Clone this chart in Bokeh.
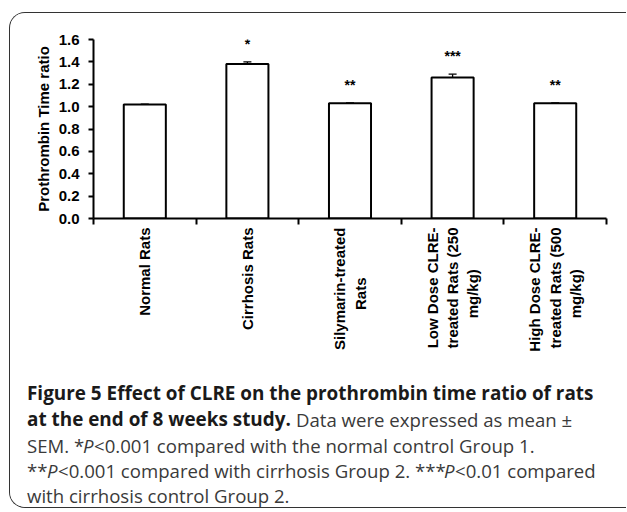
import math
from bokeh.plotting import figure
from bokeh.layouts import column
from bokeh.models import (Range1d, FixedTicker, PrintfTickFormatter, ColumnDataSource,
                          Whisker, TeeHead)
from bokeh.core.properties import value
from bokeh.embed import file_html
from bokeh.resources import INLINE

# ---- data ----
NB = "\u00a0"
categories = ["Normal Rats", "Cirrhosis Rats",
              "Silymarin-treated\nRats" + NB * 12,
              "Low Dose CLRE-\ntreated Rats (250\nmg/kg)" + NB * 10,
              "High Dose CLRE-\ntreated Rats (500\nmg/kg)" + NB * 10]
means = [1.02, 1.38, 1.03, 1.26, 1.03]
sems = [0.002, 0.02, 0.003, 0.03, 0.003]
significance = ["", "*", "**", "***", "**"]
y_ticks = [0.0, 0.2, 0.4, 0.6, 0.8, 1.0, 1.2, 1.4, 1.6]
y_label = "Prothrombin Time ratio"

ARIAL = "Liberation Sans"
CAP = "Open Sans"

# page offset of the content box inside the rounded border
OX, OY = 10.5, 13.5
CW = 616           # content width (right border runs off the page)
H1, H2 = 360, 134  # chart height, caption height

p = figure(width=CW, height=H1, output_backend="svg", toolbar_location=None,
           x_range=Range1d(0, len(categories)), y_range=Range1d(0, 1.6))
p.frame_align = False
p.min_border_left = 83
p.min_border_right = CW - 596
p.min_border_top = 26
p.min_border_bottom = H1 - 205
p.outline_line_color = None
p.grid.visible = False
p.background_fill_color = "white"
p.border_fill_color = "white"

centers = [i + 0.5 for i in range(len(categories))]
src = ColumnDataSource(dict(x=centers, top=means,
                            upper=[m + s for m, s in zip(means, sems)],
                            lower=[m - s for m, s in zip(means, sems)],
                            star_y=[m + s + 0.16 for m, s in zip(means, sems)],
                            sig=significance))

p.vbar(x="x", top="top", width=0.41, source=src, fill_color="white",
       line_color="black", line_width=2)
wh = Whisker(source=src, base="x", upper="upper", lower="lower",
             line_color="black", line_width=1.3,
             upper_head=TeeHead(size=8, line_color="black", line_width=1.3),
             lower_head=TeeHead(size=8, line_color="black", line_width=1.3))
p.add_layout(wh)
p.text(x="x", y="star_y", text="sig", source=src, text_align="center",
       text_baseline="middle", text_font=value(ARIAL), text_font_size="14px",
       text_font_style="bold", text_color="black")

# y axis
ya = p.yaxis[0]
ya.ticker = FixedTicker(ticks=y_ticks)
ya.formatter = PrintfTickFormatter(format="%.1f")
ya.axis_label = y_label
ya.axis_label_text_font = ARIAL
ya.axis_label_text_font_size = "15px"
ya.axis_label_text_font_style = "bold"
ya.axis_label_text_color = "black"
ya.axis_label_standoff = 4
ya.major_label_text_font = ARIAL
ya.major_label_text_font_size = "15px"
ya.major_label_text_font_style = "bold"
ya.major_label_text_color = "black"
ya.major_label_standoff = 9
ya.axis_line_width = 2
ya.axis_line_color = "black"
ya.major_tick_line_width = 2
ya.major_tick_line_color = "black"
ya.major_tick_out = 5
ya.major_tick_in = 0
ya.minor_tick_line_color = None

# x axis
xa = p.xaxis[0]
xa.ticker = FixedTicker(ticks=centers, minor_ticks=list(range(len(categories) + 1)))
xa.major_label_overrides = {c: lab for c, lab in zip(centers, categories)}
xa.major_label_orientation = math.pi / 2
xa.major_label_text_font = ARIAL
xa.major_label_text_font_size = "15px"
xa.major_label_text_font_style = "bold"
xa.major_label_text_color = "black"
xa.major_label_standoff = 3
xa.axis_line_width = 2
xa.axis_line_color = "black"
xa.major_tick_line_color = None
xa.minor_tick_line_color = "black"
xa.minor_tick_line_width = 2
xa.minor_tick_out = 6
xa.minor_tick_in = 0

# ---- caption (second figure, pixel coordinates, y downward) ----
c = figure(width=CW, height=H2, output_backend="svg", toolbar_location=None,
           x_range=Range1d(0, CW), y_range=Range1d(H2, 0),
           x_axis_type=None, y_axis_type=None, min_border=0)
c.frame_align = False
c.outline_line_color = None
c.grid.visible = False
c.background_fill_color = "white"
c.border_fill_color = "white"

segments = [
    (27, 393, "Figure 5 Effect of CLRE on the prothrombin time ratio of rats", "bold"),
    (27, 419, "at the end of 8 weeks study.", "bold"),
    (296, 419, "Data were expressed as mean \u00b1", "normal"),
    (27, 445, "SEM. *", "normal"),
    (83, 445, "P", "italic"),
    (94, 445, "<0.001 compared with the normal control Group 1.", "normal"),
    (27, 470, "**", "normal"),
    (47, 470, "P", "italic"),
    (58, 470, "<0.001 compared with cirrhosis Group 2. ***", "normal"),
    (444, 470, "P", "italic"),
    (455, 470, "<0.01 compared", "normal"),
    (27, 495, "with cirrhosis control Group 2.", "normal"),
]
csrc = ColumnDataSource(dict(
    x=[s[0] - OX for s in segments],
    y=[s[1] - OY - H1 for s in segments],
    text=[s[2] for s in segments],
    style=[s[3] for s in segments],
    size=["18.9px" if s[3] == "bold" else "18.6px" for s in segments],
    color=["#1a1a1a" if s[3] == "bold" else "#3a3a3a" for s in segments],
))
c.text(x="x", y="y", text="text", source=csrc, text_font=value(CAP),
       text_font_size="size", text_font_style="style", text_color="color",
       text_baseline="alphabetic", text_align="left")

layout = column(p, c, spacing=0, margin=(12, 0, 0, 9),
                styles={"border-top": "1.5px solid #333333",
                        "border-left": "1.5px solid #333333",
                        "border-bottom": "1.5px solid #333333",
                        "border-right": "none",
                        "border-radius": "16px 0 0 16px",
                        "overflow": "hidden", "background-color": "white"})

open("out.html", "w").write(file_html(layout, INLINE))
